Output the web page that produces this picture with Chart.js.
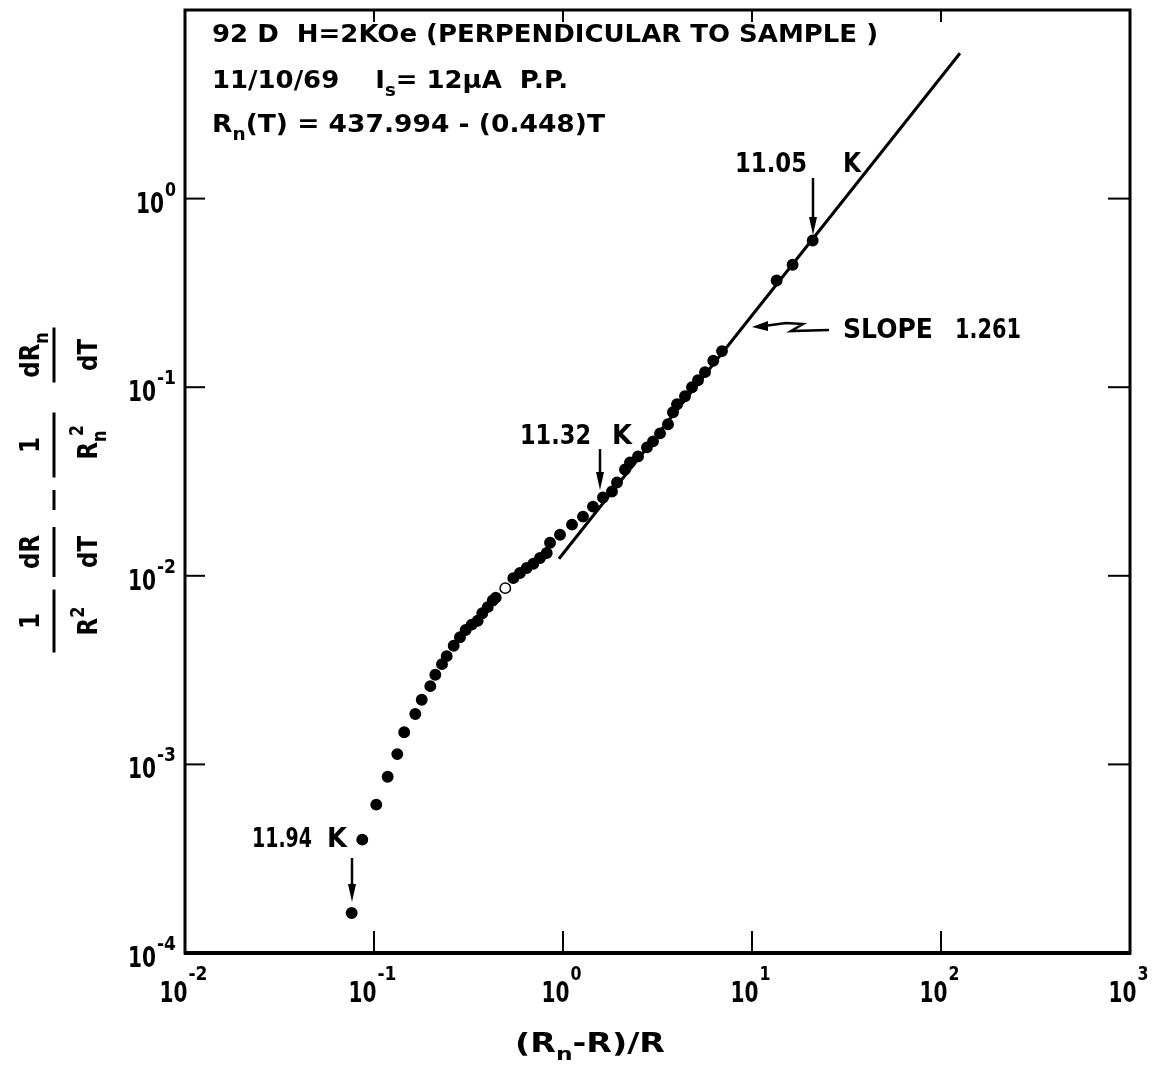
<!DOCTYPE html>
<html>
<head>
<meta charset="utf-8">
<script src="https://cdn.jsdelivr.net/npm/chart.js@4.4.0/dist/chart.umd.min.js"></script>
<style>
  body { margin: 0; background: #fff; }
  canvas { display: block; }
</style>
</head>
<body>
<canvas id="grafico" width="1164" height="1072"></canvas>
<script>
// (Rn-R)/R values
const ratio = [0.0762, 0.0867, 0.1028, 0.1181, 0.1328, 0.1445, 0.1654, 0.1789, 0.1986, 0.2111,
    0.229, 0.2424, 0.264, 0.285, 0.3056, 0.3289, 0.3537, 0.374, 0.3996, 0.4246, 0.4405,
    0.495, 0.5458, 0.592, 0.6427, 0.6965, 0.7556, 0.820,
    0.8535, 0.964, 1.116, 1.276, 1.441, 1.627, 1.816, 1.931, 2.128, 2.262, 2.494, 2.782,
    2.994, 3.261, 3.594, 3.819, 4.01, 4.42, 4.814, 5.18, 5.64, 6.24, 6.94,
    13.5, 16.4, 20.95];
// 1/R^2 dR/dT - 1/Rn^2 dRn/dT
const deriv = [1.63e-4, 3.99e-4, 6.12e-4, 8.60e-4, 1.134e-3, 1.48e-3, 1.85e-3, 2.20e-3, 2.60e-3, 2.99e-3,
    3.40e-3, 3.75e-3, 4.26e-3, 4.72e-3, 5.16e-3, 5.51e-3, 5.78e-3, 6.33e-3, 6.82e-3, 7.39e-3, 7.66e-3,
    8.60e-3, 9.72e-3, 0.01034, 0.01099, 0.01158, 0.01242, 0.0132,
    0.01498, 0.01652, 0.01868, 0.0206, 0.02328, 0.0260, 0.02797, 0.03124, 0.03663, 0.03992, 0.04295, 0.04797,
    0.05162, 0.0569, 0.0636, 0.0736, 0.0812, 0.0896, 0.100, 0.1089, 0.1202, 0.138, 0.1554,
    0.368, 0.446, 0.600];
const openPoint = 21; // the one hollow point

// fitted straight line, slope 1.261
const fitX = [0.952, 126];
const fitY = [0.01231, 5.90];

const xTicks = [1e-2, 1e-1, 1e0, 1e1, 1e2, 1e3];
const xExp = ['-2', '-1', '0', '1', '2', '3'];
const yTicks = [1e-4, 1e-3, 1e-2, 1e-1, 1e0, 1e1];
const yExp = ['-4', '-3', '-2', '-1', '0', ''];

const FONT = '"DejaVu Sans", sans-serif';
const PESO = 'bold ';

// draws text parts [texto, tipo] ('n', 'sub', 'sup'), squeezed to a width if given
function rich(ctx, parts, x, y, size, width) {
    const fs = p => p[1] === 'n' ? size : size * 0.7;
    let total = 0;
    parts.forEach(p => { ctx.font = PESO + fs(p) + 'px ' + FONT; total += ctx.measureText(p[0]).width; });
    const k = width ? width / total : 1;
    ctx.save();
    ctx.translate(x, y);
    ctx.scale(k, 1);
    ctx.textAlign = 'left';
    ctx.textBaseline = 'alphabetic';
    let cx = 0;
    parts.forEach(p => {
        ctx.font = PESO + fs(p) + 'px ' + FONT;
        const dy = p[1] === 'sub' ? size * 0.32 : p[1] === 'sup' ? -size * 0.5 : 0;
        ctx.fillText(p[0], cx, dy);
        cx += ctx.measureText(p[0]).width;
    });
    ctx.restore();
    return total * k;
}

function richWidth(ctx, parts, size) {
    let total = 0;
    parts.forEach(p => { ctx.font = PESO + (p[1] === 'n' ? size : size * 0.7) + 'px ' + FONT; total += ctx.measureText(p[0]).width; });
    return total;
}

function arrowDown(ctx, x, y0, y1) {
    ctx.lineWidth = 2.5;
    ctx.beginPath(); ctx.moveTo(x, y0); ctx.lineTo(x, y1 - 12); ctx.stroke();
    ctx.beginPath(); ctx.moveTo(x - 4, y1 - 18); ctx.lineTo(x + 4, y1 - 18); ctx.lineTo(x, y1); ctx.closePath(); ctx.fill();
}

const marco = {
    id: 'marco',
    afterDraw(chart) {
        const ctx = chart.ctx;
        const a = chart.chartArea;
        const xs = chart.scales.x, ys = chart.scales.y;
        ctx.save();
        ctx.strokeStyle = '#000';
        ctx.fillStyle = '#000';
        ctx.lineCap = 'butt';

        // frame
        ctx.lineWidth = 3;
        ctx.strokeRect(a.left, a.top, a.right - a.left, a.bottom - a.top);
        ctx.lineWidth = 4;
        ctx.beginPath(); ctx.moveTo(a.left - 1, a.bottom); ctx.lineTo(a.right + 1, a.bottom); ctx.stroke();

        // inward ticks at the decades
        ctx.lineWidth = 2;
        xs.ticks.forEach(t => {
            const px = xs.getPixelForValue(t.value);
            if (px <= a.left + 2 || px >= a.right - 2) return;
            ctx.beginPath(); ctx.moveTo(px, a.bottom); ctx.lineTo(px, a.bottom - 22); ctx.stroke();
            ctx.beginPath(); ctx.moveTo(px, a.top); ctx.lineTo(px, a.top + 12); ctx.stroke();
        });
        ys.ticks.forEach(t => {
            const py = ys.getPixelForValue(t.value);
            if (py <= a.top + 2 || py >= a.bottom - 2) return;
            ctx.beginPath(); ctx.moveTo(a.left, py); ctx.lineTo(a.left + 20, py); ctx.stroke();
            ctx.beginPath(); ctx.moveTo(a.right, py); ctx.lineTo(a.right - 22, py); ctx.stroke();
        });

        // tick labels 10^n
        xs.ticks.forEach((t, i) => {
            const px = xs.getPixelForValue(t.value);
            const w1 = 28, w2 = xExp[i].length > 1 ? 19 : 11;
            const x0 = px - (w1 + w2) / 2 - 2;
            rich(ctx, [['10', 'n']], x0, 1002, 28, w1);
            rich(ctx, [[xExp[i], 'n']], x0 + w1 + 1, 980, 20, w2);
        });
        ys.ticks.forEach((t, i) => {
            if (!yExp[i]) return;
            const py = ys.getPixelForValue(t.value);
            const w1 = 28, w2 = yExp[i].length > 1 ? 19 : 11;
            const x1 = 176;
            rich(ctx, [[yExp[i], 'n']], x1 - w2, py - 3, 20, w2);
            rich(ctx, [['10', 'n']], x1 - w2 - w1 - 1, py + 14, 28, w1);
        });

        // x title
        rich(ctx, [['(R', 'n'], ['n', 'sub'], ['-R)/R', 'n']], 515, 1052, 26, 150);

        // y title, rotated fractions
        const fr = (cy, len, num, den) => {
            ctx.save();
            ctx.translate(54, cy);
            ctx.rotate(-Math.PI / 2);
            ctx.lineWidth = 3;
            ctx.beginPath(); ctx.moveTo(-len / 2, 0); ctx.lineTo(len / 2, 0); ctx.stroke();
            if (num) {
                const w = richWidth(ctx, num, 27) * 0.85;
                rich(ctx, num, -w / 2, -15, 27, w);
            }
            if (den) {
                const w = richWidth(ctx, den, 27) * 0.85;
                rich(ctx, den, -w / 2, 43, 27, w);
            }
            ctx.restore();
        };
        fr(621, 63, [['1', 'n']], [['R', 'n'], ['2', 'sup']]);
        fr(552, 50, [['dR', 'n']], [['dT', 'n']]);
        fr(500, 20, null, null);
        fr(445, 65, [['1', 'n']], [['R', 'n'], ['n', 'sub']]);
        // superscript 2 stacked over the n of Rn
        ctx.save();
        ctx.translate(54, 445); ctx.rotate(-Math.PI / 2);
        rich(ctx, [['2', 'n']], 9, 29, 19, 11);
        ctx.restore();
        fr(355, 55, [['dR', 'n'], ['n', 'sub']], [['dT', 'n']]);

        // header
        rich(ctx, [['92 D  H=2KOe (PERPENDICULAR TO SAMPLE )', 'n']], 212, 42, 25, 666);
        rich(ctx, [['11/10/69    I', 'n'], ['s', 'sub'], ['= 12\u03bcA  P.P.', 'n']], 212, 88, 25, 356);
        rich(ctx, [['R', 'n'], ['n', 'sub'], ['(T) = 437.994 - (0.448)T', 'n']], 212, 132, 25, 393);

        // temperature marks
        rich(ctx, [['11.05', 'n']], 735, 172, 27, 72);
        rich(ctx, [['K', 'n']], 843, 172, 27, 18);
        arrowDown(ctx, 813, 178, 235);

        rich(ctx, [['11.32', 'n']], 520, 444, 27, 71);
        rich(ctx, [['K', 'n']], 612, 444, 27, 20);
        arrowDown(ctx, 600, 449, 490);

        rich(ctx, [['11.94', 'n']], 252, 847, 27, 60);
        rich(ctx, [['K', 'n']], 327, 847, 27, 20);
        arrowDown(ctx, 352, 858, 902);

        // slope label and its wavy arrow
        rich(ctx, [['SLOPE', 'n']], 843, 338, 27, 90);
        rich(ctx, [['1.261', 'n']], 955, 338, 27, 66);
        ctx.lineWidth = 2.5;
        ctx.beginPath();
        ctx.moveTo(829, 330); ctx.lineTo(791, 331); ctx.lineTo(803, 324); ctx.lineTo(786, 323); ctx.lineTo(764, 326);
        ctx.stroke();
        ctx.beginPath(); ctx.moveTo(752, 327); ctx.lineTo(768, 321); ctx.lineTo(768, 331); ctx.closePath(); ctx.fill();

        ctx.restore();
    }
};

new Chart(document.getElementById('grafico').getContext('2d'), {
    type: 'scatter',
    data: {
        datasets: [{
            label: 'datos',
            data: ratio.map((x, i) => ({ x: x, y: deriv[i] })),
            pointRadius: 5.2,
            pointBorderWidth: 1.5,
            pointBackgroundColor: c => c.dataIndex === openPoint ? '#fff' : '#000',
            pointBorderColor: '#000',
            showLine: false
        }, {
            label: 'ajuste',
            data: fitX.map((x, i) => ({ x: x, y: fitY[i] })),
            showLine: true,
            borderColor: '#000',
            borderWidth: 3,
            pointRadius: 0
        }]
    },
    options: {
        responsive: false,
        animation: false,
        layout: { padding: { top: 10, right: 34, left: 0, bottom: 0 } },
        plugins: { legend: { display: false }, tooltip: { enabled: false } },
        scales: {
            x: {
                type: 'logarithmic',
                min: 1e-2,
                max: 1e3,
                afterBuildTicks: s => { s.ticks = xTicks.map(v => ({ value: v })); },
                afterFit: s => { s.height = 119; },
                ticks: { display: false },
                grid: { display: false },
                border: { display: false }
            },
            y: {
                type: 'logarithmic',
                min: 1e-4,
                max: 1e1,
                afterBuildTicks: s => { s.ticks = yTicks.map(v => ({ value: v })); },
                afterFit: s => { s.width = 185; },
                ticks: { display: false },
                grid: { display: false },
                border: { display: false }
            }
        }
    },
    plugins: [marco]
});
</script>
</body>
</html>
